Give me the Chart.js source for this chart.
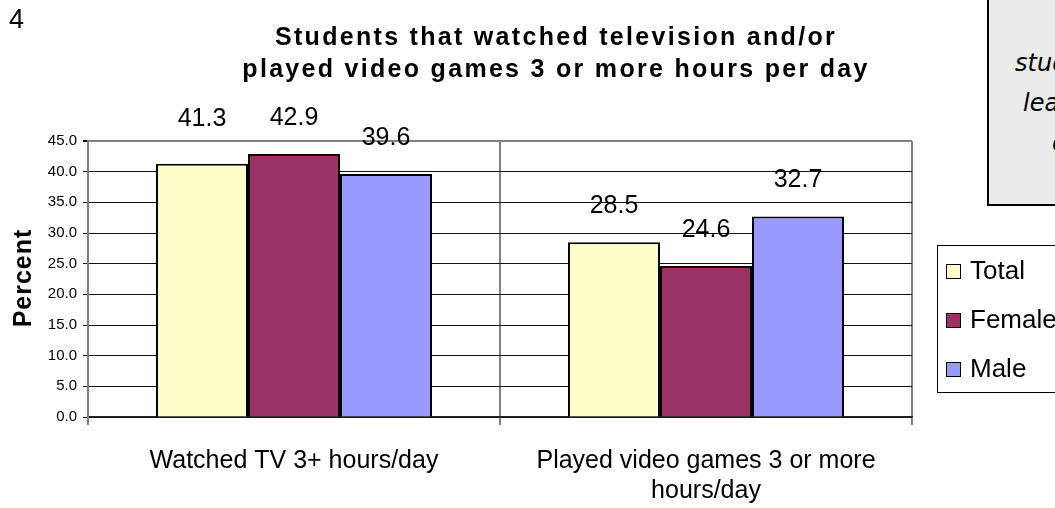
<!DOCTYPE html>
<html>
<head>
<meta charset="utf-8">
<script src="https://cdn.jsdelivr.net/npm/chart.js@4"></script>
<style>
  html, body { margin: 0; padding: 0; background: #fff; overflow: hidden; }
  body { width: 1055px; height: 508px; position: relative; font-family: "Liberation Sans", Arial, sans-serif; }
  #wrap { position: absolute; left: 0; top: 0; width: 1055px; height: 508px; }
  #page-num { position: absolute; left: 9px; top: 6px; font-size: 27px; line-height: 27px; }
  #title { position: absolute; left: 0; width: 1112px; top: 20px; text-align: center;
           font-weight: bold; font-size: 25px; line-height: 32px; letter-spacing: 2.3px; white-space: nowrap; }
  #ytitle { position: absolute; left: 22px; top: 278px; transform: translate(-50%, -50%) rotate(-90deg);
            font-weight: bold; font-size: 25px; line-height: 25px; letter-spacing: 1px; white-space: nowrap; }
  #note { position: absolute; left: 987px; top: -2px; width: 220px; height: 208px;
          background: #ececec; border: 2px solid #000; box-sizing: border-box; }
  #note div { position: absolute; font-family: "DejaVu Sans", sans-serif; font-style: italic;
              font-size: 24px; line-height: 24px; white-space: nowrap; }
  #legend { position: absolute; left: 937px; top: 245px; width: 200px; height: 148px;
            border: 1px solid #000; box-sizing: border-box; }
  #legend .item { position: absolute; left: 8px; font-size: 26px; line-height: 30px; white-space: nowrap; }
  #legend .sw { display: inline-block; width: 13px; height: 13px; border: 1px solid #000;
                margin-right: 9px; vertical-align: 0px; }
</style>
</head>
<body>
<div id="wrap"><canvas id="chart" width="1055" height="508"></canvas></div>
<div id="page-num">4</div>
<div id="title">Students that watched television and/or<br>played video games 3 or more hours per day</div>
<div id="ytitle">Percent</div>
<div id="note">
  <div style="left:26px; top:51px;">students watched</div>
  <div style="left:34px; top:91px;">least three hours</div>
  <div style="left:63px; top:131px;">on a school day</div>
</div>
<div id="legend"></div>

<script>
const categories = [
  ["Watched TV 3+ hours/day"],
  ["Played video games 3 or more", "hours/day"]
];
const seriesNames = ["Total", "Female", "Male"];
const totalValues = [41.3, 28.5];
const femaleValues = [42.9, 24.6];
const maleValues = [39.6, 32.7];
const seriesColors = ["#FFFFCC", "#993366", "#9999FF"];
const yTicks = [0, 5, 10, 15, 20, 25, 30, 35, 40, 45];

const allValues = [totalValues, femaleValues, maleValues];

// value labels above each bar (the 41.3 label sits a bit higher in the original)
const barLabels = {
  id: "barLabels",
  afterDatasetsDraw(chart) {
    const ctx = chart.ctx;
    ctx.save();
    ctx.font = '25px "Liberation Sans", Arial, sans-serif';
    ctx.fillStyle = "#000";
    ctx.textAlign = "center";
    ctx.textBaseline = "alphabetic";
    chart.data.datasets.forEach((ds, i) => {
      chart.getDatasetMeta(i).data.forEach((bar, j) => {
        const nudge = (i === 0 && j === 0) ? -9 : 0;
        ctx.fillText(ds.data[j].toFixed(1), bar.x, bar.y - 29 + nudge);
      });
    });
    ctx.restore();
  }
};

const chart = new Chart(document.getElementById("chart"), {
  type: "bar",
  data: {
    labels: categories,
    datasets: seriesNames.map((name, i) => ({
      label: name,
      data: allValues[i],
      backgroundColor: seriesColors[i],
      borderColor: "#000",
      borderWidth: 2,
      barPercentage: 1,
      categoryPercentage: 0.67
    }))
  },
  options: {
    responsive: false,
    animation: false,
    events: [],
    layout: { padding: { left: 0, top: 141, right: 143, bottom: 0 } },
    plugins: { legend: { display: false }, tooltip: { enabled: false } },
    scales: {
      x: {
        afterFit(scale) { scale.height = 91; },
        grid: { offset: true, color: "#808080", lineWidth: 2, tickLength: 8, tickColor: "#808080" },
        border: { color: "#222", width: 1.5 },
        ticks: {
          color: "#000",
          padding: 21,
          font: { family: '"Liberation Sans", Arial, sans-serif', size: 25, lineHeight: 1.2 }
        }
      },
      y: {
        min: 0,
        max: 45,
        afterFit(scale) { scale.width = 88; },
        afterBuildTicks(scale) { scale.ticks = yTicks.map(v => ({ value: v })); },
        grid: {
          color: c => (c.tick && c.tick.value === 45 ? "#808080" : "#111"),
          lineWidth: c => (c.tick && c.tick.value === 45 ? 2 : 1),
          tickLength: 5,
          tickColor: "#111"
        },
        border: { color: "#808080", width: 2 },
        ticks: {
          color: "#000",
          padding: 6,
          font: { family: '"Liberation Sans", Arial, sans-serif', size: 15 },
          callback: v => Number(v).toFixed(1)
        }
      }
    }
  },
  plugins: [barLabels]
});

// legend built from the series
const legend = document.getElementById("legend");
seriesNames.forEach((name, i) => {
  const item = document.createElement("div");
  item.className = "item";
  item.style.top = (9 + i * 49) + "px";
  item.innerHTML = '<span class="sw" style="background:' + seriesColors[i] + '"></span>' + name;
  legend.appendChild(item);
});
</script>
</body>
</html>
